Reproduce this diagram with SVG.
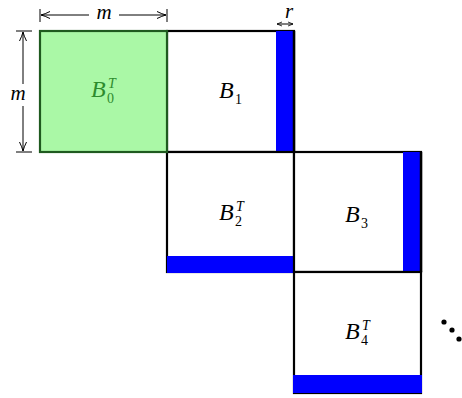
<svg xmlns="http://www.w3.org/2000/svg" width="462" height="398" viewBox="0 0 462 398">
<style>
.box{fill:#fff;stroke:#000;stroke-width:2.2}
.blue{fill:#0000ff;stroke:none}
.lbl{font-family:"Liberation Serif",serif;font-style:italic;font-size:24px}
.sm{font-family:"Liberation Serif",serif;font-size:14px}
.smi{font-family:"Liberation Serif",serif;font-style:italic;font-size:14px}
.dl{font-family:"Liberation Serif",serif;font-style:italic;font-size:21px;text-anchor:middle}
.dim{stroke:#000;stroke-width:1;fill:none}
</style>
<defs>
<marker id="ah" markerWidth="10" markerHeight="8" refX="9" refY="4" orient="auto-start-reverse" markerUnits="userSpaceOnUse">
<path d="M0,0.5 Q5,3 9,4 Q5,5 0,7.5" fill="none" stroke="#000" stroke-width="1"/>
</marker>
<marker id="ahs" markerWidth="6" markerHeight="6" refX="5" refY="3" orient="auto-start-reverse" markerUnits="userSpaceOnUse">
<path d="M0,1 L5,3 L0,5" fill="none" stroke="#000" stroke-width="0.8"/>
</marker>
</defs>
<g id="B1">
<rect class="box" x="167" y="31" width="127" height="121"/>
<rect class="blue" x="276" y="31" width="18" height="121"/>
<line x1="294" y1="31" x2="294" y2="152" stroke="#000" stroke-width="2.5"/>
<text class="lbl" x="219" y="98">B</text>
<text class="sm" x="235" y="104">1</text>
</g>
<g id="B2T">
<rect class="box" x="167" y="152" width="127" height="120"/>
<rect class="blue" x="167" y="256" width="128" height="17"/>
<text class="lbl" x="219" y="220">B</text>
<text class="smi" x="236" y="211">T</text>
<text class="sm" x="235" y="226">2</text>
</g>
<g id="B3">
<rect class="box" x="294" y="152" width="127" height="120"/>
<rect class="blue" x="403" y="152" width="18" height="120"/>
<line x1="421" y1="152" x2="421" y2="272" stroke="#000" stroke-width="2.5"/>
<text class="lbl" x="345" y="222">B</text>
<text class="sm" x="361" y="228">3</text>
</g>
<g id="B4T">
<rect class="box" x="294" y="272" width="127" height="121"/>
<rect class="blue" x="293" y="375" width="129" height="18"/>
<text class="lbl" x="345" y="339">B</text>
<text class="smi" x="362" y="330">T</text>
<text class="sm" x="361" y="345">4</text>
</g>
<g id="B0T">
<rect x="40" y="31" width="127" height="121" fill="#aaf8a6" stroke="#1f5a1f" stroke-width="2.2"/>
<g fill="#2e8b2e">
<text class="lbl" x="91" y="97">B</text>
<text class="smi" x="108" y="88">T</text>
<text class="sm" x="107" y="103">0</text>
</g>
</g>
<g id="dots" fill="#000">
<circle cx="444" cy="322" r="2.6"/>
<circle cx="452" cy="330" r="2.6"/>
<circle cx="459" cy="339" r="2.6"/>
</g>
<g id="connectors">
<line class="dim" x1="40" y1="9" x2="40" y2="22"/>
<line class="dim" x1="167" y1="9" x2="167" y2="22"/>
<line class="dim" x1="89" y1="15" x2="41" y2="15" marker-end="url(#ah)"/>
<line class="dim" x1="119" y1="15" x2="166" y2="15" marker-end="url(#ah)"/>
<text class="dl" x="104" y="19">m</text>
<line class="dim" x1="16" y1="31" x2="32" y2="31"/>
<line class="dim" x1="16" y1="152" x2="32" y2="152"/>
<line class="dim" x1="23" y1="84" x2="23" y2="32" marker-end="url(#ah)"/>
<line class="dim" x1="23" y1="106" x2="23" y2="151" marker-end="url(#ah)"/>
<text class="dl" x="18" y="100">m</text>
<line class="dim" x1="277" y1="24" x2="293" y2="24" stroke-width="0.8" marker-start="url(#ahs)" marker-end="url(#ahs)"/>
<text class="dl" x="289" y="18">r</text>
</g>
</svg>
